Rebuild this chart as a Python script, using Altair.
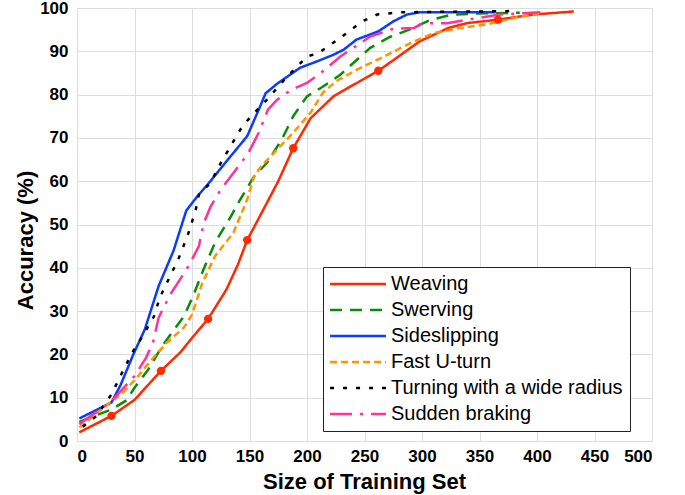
import altair as alt
import pandas as pd

series_names = ["Weaving", "Swerving", "Sideslipping", "Fast U-turn",
                "Turning with a wide radius", "Sudden braking"]
series_colors = ["#ff2a00", "#0a8c0a", "#0a3cff", "#ff9500", "#000000", "#ff3399"]
series_dashes = [[1, 0], [12, 8], [1, 0], [7, 4], [4, 9], [22, 8, 3, 8]]

x_ticks = [0, 50, 100, 150, 200, 250, 300, 350, 400, 450, 500]
y_ticks = [0, 10, 20, 30, 40, 50, 60, 70, 80, 90, 100]

weaving_x = [2, 30, 50, 73, 90, 100, 114, 130, 140, 148, 160, 175, 188, 203, 223, 246, 262, 278, 298, 323, 339, 366, 397, 432]
weaving_y = [2, 5.8, 9.5, 16.2, 20.5, 23.8, 28.2, 35, 40.8, 46.4, 52.4, 60, 67.6, 74.5, 79.6, 83.1, 85.5, 88.5, 92.3, 95.4, 96.5, 97.3, 98.5, 99.2]
weaving_markers_x = [30, 73, 114, 148, 188, 262, 366]

swerving_x = [2, 30, 43, 50, 62, 75, 93, 101, 110, 120, 133, 142, 154, 165, 178, 188, 200, 213, 229, 242, 255, 272, 290, 307, 325, 345, 385]
swerving_y = [4.4, 7.3, 9.4, 12.3, 16.5, 22.3, 28.8, 33.5, 39.6, 45.8, 51.5, 55.8, 61.1, 64.2, 69.6, 75, 79.6, 81.7, 84.6, 87.7, 90.8, 93.3, 95.1, 97.2, 98.4, 98.7, 98.9]

sideslipping_x = [2, 30, 38, 49, 59, 71, 84, 95, 104, 116, 130, 148, 158, 164, 174, 194, 209, 223, 232, 243, 262, 275, 287, 298, 364]
sideslipping_y = [5.2, 8.9, 13, 20, 25.8, 35.8, 44, 53.2, 56.3, 60, 64.6, 70.4, 76.5, 80.3, 82.5, 86.2, 87.7, 89.2, 90.4, 92.7, 94.6, 96.9, 98.5, 99, 99]

uturn_x = [2, 30, 40, 52, 64, 78, 93, 100, 109, 120, 136, 148, 154, 160, 174, 188, 203, 214, 226, 243, 267, 290, 310, 333, 356, 380, 403]
uturn_y = [3.1, 9.2, 11.2, 14.6, 18.5, 22.7, 26.2, 29.2, 36.5, 42.7, 48.1, 55.8, 61.1, 63.4, 67.3, 71.2, 75.8, 80.5, 83.2, 85.7, 88.8, 91.9, 94.2, 95.4, 96.2, 97.7, 98.8]

turning_x = [5, 17, 30, 35, 40, 48, 57, 67, 72, 81, 88, 96, 103, 106, 116, 125, 142, 150, 165, 183, 200, 210, 229, 248, 261, 281, 380]
turning_y = [3.3, 5.8, 10.8, 13.5, 16.2, 20.4, 24.2, 28.8, 33.1, 38.1, 41.9, 47.3, 53.1, 56.9, 59.6, 64.2, 71.9, 74.6, 78.8, 84.2, 88.8, 89.6, 93.1, 96.9, 98.5, 99.0, 99.3]

braking_x = [2, 20, 30, 50, 60, 66, 71, 81, 91, 97, 106, 110, 116, 125, 136, 149, 158, 166, 174, 186, 200, 212, 229, 255, 275, 293, 301, 322, 339, 368, 403]
braking_y = [3.9, 7.3, 9.2, 15, 19.2, 22.7, 28.5, 33.8, 37.9, 40.4, 45, 50.2, 54, 58.1, 61.9, 66.5, 71.2, 76.5, 78.8, 81.1, 82.7, 85, 88.8, 93.4, 95.2, 95.4, 96.5, 96.5, 97.3, 98.5, 99.0]

all_x = [weaving_x, swerving_x, sideslipping_x, uturn_x, turning_x, braking_x]
all_y = [weaving_y, swerving_y, sideslipping_y, uturn_y, turning_y, braking_y]

rows = []
for name, xs, ys in zip(series_names, all_x, all_y):
    for i, (xv, yv) in enumerate(zip(xs, ys)):
        rows.append({"series": name, "x": xv, "y": yv, "idx": i,
                     "marker": name == "Weaving" and xv in weaving_markers_x})
df = pd.DataFrame(rows)

FONT = "Liberation Sans"

legend = alt.Legend(
    title=None, orient="none", legendX=246, legendY=259,
    symbolType="M-5,0H5", symbolSize=125, symbolStrokeWidth=2.5,
    symbolOffset=18, labelOffset=23,
    labelFont=FONT, labelFontSize=20, labelColor="black", labelLimit=400,
    padding=7, rowPadding=6, strokeColor="#222222", fillColor="white",
)

x_axis = alt.Axis(values=x_ticks, title="Size of Training Set", grid=True,
                  ticks=False, domain=False, labelPadding=7,
                  labelFont=FONT, labelFontSize=17, labelFontWeight="bold", labelColor="black",
                  titleFont=FONT, titleFontSize=22, titleFontWeight="bold", titleColor="black",
                  titleX=287, titleY=47, titleBaseline="alphabetic", titleAlign="center")
y_axis = alt.Axis(values=y_ticks, title="Accuracy (%)", grid=True,
                  ticks=False, domain=False, labelPadding=9,
                  labelFont=FONT, labelFontSize=17, labelFontWeight="bold", labelColor="black",
                  titleFont=FONT, titleFontSize=22, titleFontWeight="bold", titleColor="black",
                  titleX=-52, titleY=232, titleAngle=270, titleAlign="center", titleBaseline="middle")

xenc = alt.X("x:Q", scale=alt.Scale(domain=[0, 500], nice=False, zero=False), axis=x_axis)
yenc = alt.Y("y:Q", scale=alt.Scale(domain=[0, 100], nice=False), axis=y_axis)

lines = alt.Chart(df).mark_line(strokeWidth=2.5, clip=True).encode(
    x=xenc, y=yenc,
    color=alt.Color("series:N", scale=alt.Scale(domain=series_names, range=series_colors),
                    sort=series_names, legend=legend),
    strokeDash=alt.StrokeDash("series:N", scale=alt.Scale(domain=series_names, range=series_dashes),
                              sort=series_names, legend=legend),
    order="idx:Q",
)

markers = alt.Chart(df).transform_filter("datum.marker").mark_point(
    shape="circle", filled=True, size=70, opacity=1, color=series_colors[0]
).encode(x="x:Q", y="y:Q")

chart = alt.layer(lines, markers).properties(
    width=575, height=433,
    autosize=alt.AutoSizeParams(type="none"),
    padding={"left": 77, "top": 8, "right": 33, "bottom": 54},
).configure_view(stroke="black", strokeWidth=1).configure_axis(
    gridColor="black", gridDash=[1, 3], gridOpacity=0.85, gridWidth=1
).configure(background="white")

chart.save("out.html", embed_options={"renderer": "svg", "actions": False})
